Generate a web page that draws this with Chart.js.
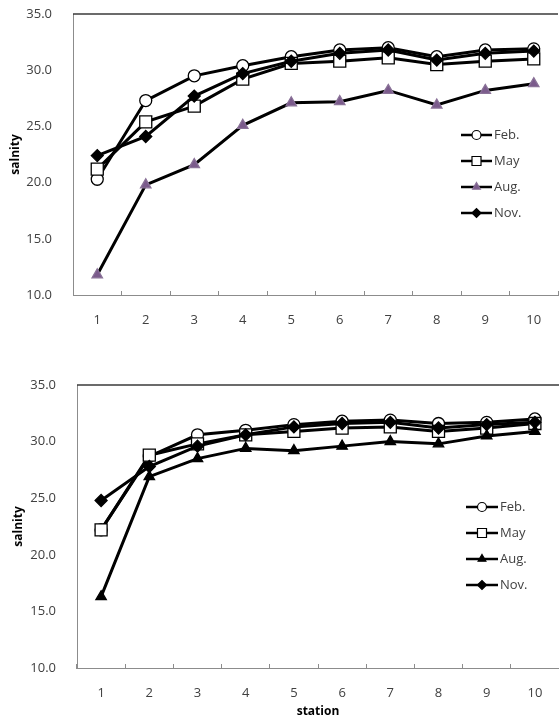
<!DOCTYPE html>
<html>
<head>
<meta charset="utf-8">
<script src="https://cdn.jsdelivr.net/npm/chart.js@4.4.0/dist/chart.umd.min.js"></script>
<style>
  body { margin: 0; background: #fff; }
  canvas { display: block; }
</style>
</head>
<body>
<canvas id="chart1" width="559" height="345"></canvas>
<canvas id="chart2" width="559" height="374"></canvas>
<script>
// Data
const stations = ["1", "2", "3", "4", "5", "6", "7", "8", "9", "10"];
const months = ["Feb.", "May", "Aug.", "Nov."];
const yTicks = [10, 15, 20, 25, 30, 35];

// upper panel
const topFeb = [20.3, 27.3, 29.5, 30.4, 31.2, 31.8, 32.0, 31.2, 31.8, 31.9];
const topMay = [21.2, 25.4, 26.8, 29.2, 30.6, 30.8, 31.1, 30.5, 30.8, 31.0];
const topAug = [11.8, 19.8, 21.6, 25.1, 27.1, 27.2, 28.2, 26.9, 28.2, 28.8];
const topNov = [22.4, 24.1, 27.7, 29.7, 30.8, 31.5, 31.8, 30.9, 31.5, 31.7];

// lower panel
const botFeb = [22.2, 28.7, 30.6, 31.0, 31.5, 31.8, 31.9, 31.6, 31.7, 32.0];
const botMay = [22.2, 28.8, 29.8, 30.6, 30.9, 31.2, 31.3, 30.9, 31.2, 31.6];
const botAug = [16.3, 26.9, 28.5, 29.4, 29.2, 29.6, 30.0, 29.8, 30.5, 30.9];
const botNov = [24.8, 27.8, 29.6, 30.6, 31.3, 31.6, 31.7, 31.2, 31.5, 31.7];

const FONT = "'Open Sans', 'DejaVu Sans', sans-serif";
const TEXT = "#404040";

function makeSet(label, data, style, fill, radius, order, border) {
  return {
    label: label,
    data: data,
    order: order, // later series on top, like the original
    borderColor: "#000",
    borderWidth: 3,
    pointStyle: style,
    pointRadius: radius,
    pointBackgroundColor: fill,
    pointBorderColor: border || "#000",
    pointBorderWidth: 1.3,
    tension: 0,
    fill: false,
  };
}

// top border line + excel-like legend inside the plot
const frameAndLegend = {
  id: "frameAndLegend",
  afterDraw(chart, args, opts) {
    const ctx = chart.ctx;
    const area = chart.chartArea;
    ctx.save();
    ctx.strokeStyle = "#3a3a3a";
    ctx.lineWidth = 1.5;
    ctx.beginPath();
    ctx.moveTo(area.left, area.top);
    ctx.lineTo(area.right, area.top);
    ctx.stroke();

    chart.data.datasets.forEach((ds, i) => {
      const y = opts.y + i * opts.gap;
      ctx.strokeStyle = "#000";
      ctx.lineWidth = 2.5;
      ctx.beginPath();
      ctx.moveTo(opts.x, y);
      ctx.lineTo(opts.x + opts.len, y);
      ctx.stroke();
      ctx.fillStyle = ds.pointBackgroundColor;
      ctx.strokeStyle = ds.pointBorderColor;
      ctx.lineWidth = 1.2;
      Chart.helpers.drawPoint(ctx, {
        pointStyle: ds.pointStyle,
        radius: ds.pointRadius * 0.75,
        rotation: 0,
        borderWidth: 1.2,
      }, opts.x + opts.len / 2, y);
      ctx.fillStyle = TEXT;
      ctx.font = "13px " + FONT;
      ctx.textBaseline = "middle";
      ctx.textAlign = "left";
      ctx.fillText(ds.label, opts.x + opts.len + 2, y);
    });
    ctx.restore();
  },
};

function makeOptions(cfg) {
  return {
    responsive: false,
    animation: false,
    layout: {
      autoPadding: false,
      padding: { top: cfg.top, right: cfg.right, left: 0, bottom: 0 },
    },
    plugins: {
      legend: { display: false },
      tooltip: { enabled: false },
      frameAndLegend: cfg.legend,
    },
    scales: {
      x: {
        offset: true,
        grid: {
          offset: true,
          drawOnChartArea: false,
          tickLength: -4,
          color: "#8c8c8c",
        },
        border: { color: "#8c8c8c", width: 1 },
        ticks: {
          padding: 21,
          color: TEXT,
          font: { family: FONT, size: 13 },
          maxRotation: 0,
        },
        title: {
          display: cfg.xTitle !== "",
          text: cfg.xTitle,
          color: "#000",
          font: { family: FONT, size: 12, weight: "bold" },
          padding: { top: 0, bottom: 0 },
        },
        afterFit(scale) {
          scale.height = cfg.xHeight;
          scale.paddingLeft = 0;
          scale.paddingRight = 0;
        },
      },
      y: {
        min: yTicks[0],
        max: yTicks[yTicks.length - 1],
        grid: { display: false },
        border: { color: "#8c8c8c", width: 1 },
        ticks: {
          stepSize: yTicks[1] - yTicks[0],
          padding: 13,
          color: TEXT,
          font: { family: FONT, size: 13 },
          callback: (v) => v.toFixed(1),
        },
        title: {
          display: true,
          text: "salnity",
          color: "#000",
          font: { family: FONT, size: 12, weight: "bold" },
          padding: { top: cfg.yTitlePad, bottom: 0 },
        },
        afterFit(scale) {
          scale.width = cfg.yWidth;
          scale.paddingTop = 0;
          scale.paddingBottom = 0;
        },
      },
    },
  };
}

new Chart(document.getElementById("chart1").getContext("2d"), {
  type: "line",
  data: {
    labels: stations,
    datasets: [
      makeSet(months[0], topFeb, "circle", "#fff", 6, 4),
      makeSet(months[1], topMay, "rect", "#fff", 8.5, 3),
      makeSet(months[2], topAug, "triangle", "#7b5b8c", 6, 2, "#8a7298"),
      makeSet(months[3], topNov, "rectRot", "#000", 6, 1),
    ],
  },
  options: makeOptions({
    top: 14, right: 1, xHeight: 50, yWidth: 73, yTitlePad: 8, xTitle: "",
    legend: { x: 461, y: 135, gap: 26, len: 31 },
  }),
  plugins: [frameAndLegend],
});

new Chart(document.getElementById("chart2").getContext("2d"), {
  type: "line",
  data: {
    labels: stations,
    datasets: [
      makeSet(months[0], botFeb, "circle", "#fff", 6, 4),
      makeSet(months[1], botMay, "rect", "#fff", 8.5, 3),
      makeSet(months[2], botAug, "triangle", "#000", 6, 2),
      makeSet(months[3], botNov, "rectRot", "#000", 6, 1),
    ],
  },
  options: makeOptions({
    top: 40, right: 0, xHeight: 51, yWidth: 77, yTitlePad: 11, xTitle: "station",
    legend: { x: 466, y: 162, gap: 26, len: 32 },
  }),
  plugins: [frameAndLegend],
});
</script>
</body>
</html>
